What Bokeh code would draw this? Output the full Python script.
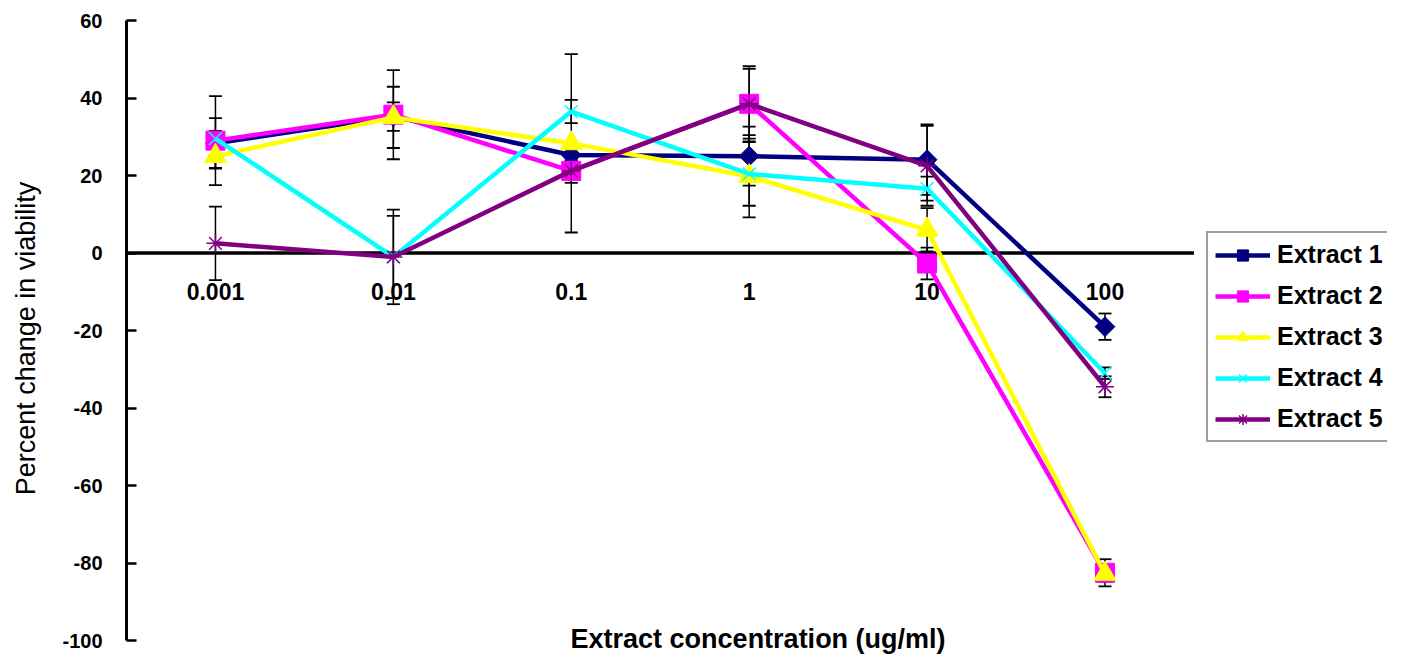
from bokeh.plotting import figure
from bokeh.models import Range1d, Label, FixedTicker
from bokeh.core.properties import value
from bokeh.embed import file_html
from bokeh.resources import INLINE

# ---- data ----
categories = ["0.001", "0.01", "0.1", "1", "10", "100"]
y_ticks = [-100, -80, -60, -40, -20, 0, 20, 40, 60]

names = ["Extract 1", "Extract 2", "Extract 3", "Extract 4", "Extract 5"]
extract1 = [28.3, 35.2, 25.3, 25.0, 24.1, -19.0]
extract2 = [29.0, 35.7, 21.2, 38.5, -2.7, -82.5]
extract3 = [25.0, 35.0, 28.3, 19.8, 6.0, -82.8]
extract4 = [29.5, -1.0, 36.5, 20.4, 16.6, -31.0]
extract5 = [2.5, -1.0, 21.2, 38.5, 22.5, -34.5]

err1 = [6.5, 3.7, 1.5, 7.6, 9.1, 3.4]
err2 = [11.5, 11.5, 3.1, 9.7, 4.1, 3.5]
err3 = [3.0, 7.9, 23.0, 10.6, 5.6, 2.0]
err4 = [2.0, 12.2, 3.0, 8.2, 3.1, 1.5]
err5 = [9.5, 10.6, 2.0, 9.0, 10.3, 2.7]

series = [extract1, extract2, extract3, extract4, extract5]
errors = [err1, err2, err3, err4, err5]

# ---- styles ----
colors = ["#000080", "#FF00FF", "#FFFF00", "#00FFFF", "#800080"]
markers = ["square", "square", "triangle", "x", "asterisk"]
msizes = [14, 19, 22, 18, 18]
mangles = [0.785398, 0.0, 0.0, 0.0, 0.0]
FONT = "Liberation Sans"

# category positions along the x scale (one unit per category)
xpos = list(range(len(categories)))
x_lo = -0.5
x_hi = len(categories) - 0.5

p = figure(width=1387, height=656,
           x_range=Range1d(x_lo, 6.588),
           y_range=Range1d(-104.1, 60),
           x_axis_location=None,
           output_backend="svg", toolbar_location=None,
           min_border_left=126, min_border_right=0,
           min_border_top=20, min_border_bottom=0)

p.outline_line_color = None
p.xgrid.grid_line_color = None
p.ygrid.grid_line_color = None
p.background_fill_color = "white"
p.border_fill_color = "white"

# y axis
ax = p.yaxis[0]
ax.bounds = (-100, 60)
ax.ticker = FixedTicker(ticks=y_ticks)
ax.major_label_overrides = {t: str(t) for t in y_ticks}
ax.axis_line_width = 3
ax.axis_line_color = "black"
ax.major_tick_in = 10
ax.major_tick_out = 0
ax.major_tick_line_width = 2.5
ax.major_tick_line_color = "black"
ax.minor_tick_line_color = None
ax.major_label_text_font = FONT
ax.major_label_text_font_style = "bold"
ax.major_label_text_font_size = "20px"
ax.major_label_text_color = "black"
ax.major_label_standoff = 24
ax.axis_label = "Percent change in viability"
ax.axis_label_text_font = FONT
ax.axis_label_text_font_style = "normal"
ax.axis_label_text_font_size = "27px"
ax.axis_label_text_color = "black"
ax.axis_label_standoff = 18

# zero line acting as category axis
p.segment(x0=[x_lo], y0=[0], x1=[x_hi], y1=[0], line_color="black", line_width=3.5)

# category labels below zero line
p.text(x=xpos, y=[0] * len(categories), text=categories,
       y_offset=38, text_align="center", text_baseline="middle",
       text_font=value(FONT), text_font_style="bold",
       text_font_size="23px", text_color="black")

# error bars
for vals, errs in zip(series, errors):
    lo = [v - e for v, e in zip(vals, errs)]
    hi = [v + e for v, e in zip(vals, errs)]
    p.segment(x0=xpos, y0=lo, x1=xpos, y1=hi,
              line_color="black", line_width=1.5)
    p.scatter(x=xpos, y=lo, marker="dash", size=13,
              line_color="black", line_width=1.8)
    p.scatter(x=xpos, y=hi, marker="dash", size=13,
              line_color="black", line_width=1.8)

# series lines + markers
for name, vals, c, m, s, a in zip(names, series, colors, markers, msizes, mangles):
    p.line(xpos, vals, line_color=c, line_width=4.5, legend_label=name)
    if m in ("x", "asterisk"):
        p.scatter(xpos, vals, marker=m, size=s, angle=a,
                  line_color=c, line_width=1.5, legend_label=name)
    else:
        p.scatter(xpos, vals, marker=m, size=s, angle=a,
                  fill_color=c, line_color=c, legend_label=name)

lg = p.legend[0]
lg.location = (1080, 214)
lg.border_line_color = "#404040"
lg.border_line_width = 2
lg.background_fill_color = "white"
lg.background_fill_alpha = 1
lg.label_text_font = FONT
lg.label_text_font_style = "bold"
lg.label_text_font_size = "25px"
lg.label_text_color = "black"
lg.glyph_width = 55
lg.glyph_height = 28
lg.label_height = 28
lg.label_standoff = 7
lg.spacing = 12
lg.padding = 7
lg.margin = 0

# x-axis title
p.add_layout(Label(x=3.05, y=-100, y_offset=2,
                   text="Extract concentration (ug/ml)",
                   text_align="center", text_baseline="middle",
                   text_font=FONT, text_font_style="bold",
                   text_font_size="27px", text_color="black"))

open("out.html", "w").write(file_html(p, INLINE))
